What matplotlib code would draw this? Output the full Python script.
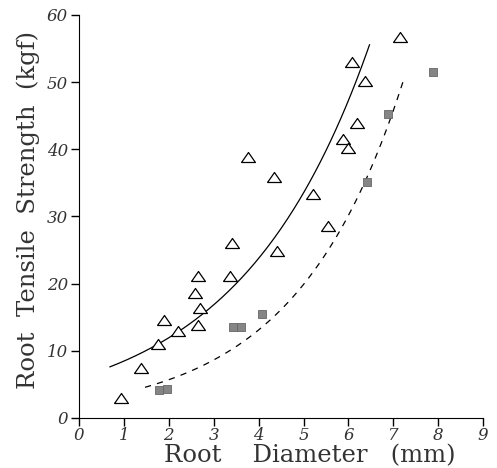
import numpy as np
import matplotlib
matplotlib.use('Agg')
import matplotlib.pyplot as plt

# Open triangles
tri_x = [0.93, 1.38, 1.75, 1.90, 2.21, 2.59, 2.64, 2.65, 2.70, 3.37, 3.40, 3.77,
         4.35, 4.42, 5.22, 5.54, 5.89, 6.00, 6.08, 6.19, 6.38, 7.16]
tri_y = [2.9, 7.5, 11.0, 14.6, 12.9, 18.6, 21.1, 13.8, 16.3, 21.2, 26.0, 38.8,
         35.9, 24.9, 33.4, 28.6, 41.6, 40.2, 53.0, 43.9, 50.2, 56.7]

# Grey squares
sq_x = [1.78, 1.97, 3.43, 3.60, 4.07, 6.41, 6.88, 7.88]
sq_y = [4.2, 4.3, 13.6, 13.6, 15.5, 35.2, 45.3, 51.5]

# Exponential fits y = a*exp(b*x)
solid_a, solid_b, solid_range = 6.0, 0.344, (0.69, 6.47)
dash_a, dash_b, dash_range = 2.47, 0.417, (1.47, 7.23)

txt = '#333333'

fig = plt.figure(figsize=(4.97, 4.68), dpi=100)
ax = fig.add_axes([0.159, 0.107, 0.813, 0.861])

xs = np.linspace(*solid_range, 200)
ax.plot(xs, solid_a * np.exp(solid_b * xs), color='black', lw=0.9)
xd = np.linspace(*dash_range, 200)
ax.plot(xd, dash_a * np.exp(dash_b * xd), color='black', lw=0.9, dashes=(5, 5))

tri = [(-1, -0.72), (1, -0.72), (0, 0.72), (-1, -0.72)]
ax.plot(tri_x, tri_y, linestyle='none', marker=tri, ms=10,
        mfc='white', mec='black', mew=0.9)
ax.plot(sq_x, sq_y, linestyle='none', marker='s', ms=6.2,
        mfc='#858585', mec='#666666', mew=0.6)

ax.set_xlim(0, 9)
ax.set_ylim(0, 60)
ax.set_xticks(range(0, 10))
ax.set_yticks(range(0, 70, 10))
for s in ['top', 'right']:
    ax.spines[s].set_visible(False)
ax.tick_params(direction='out', length=6, width=1, pad=2, labelcolor=txt)
ax.tick_params(axis='x', pad=0.5)
for lab in ax.get_xticklabels() + ax.get_yticklabels():
    lab.set_family('DejaVu Serif')
    lab.set_style('italic')
    lab.set_fontsize(12)

ax.set_xlabel('Root    Diameter   (mm)', family='DejaVu Serif', fontsize=17.5, color=txt)
ax.set_ylabel('Root  Tensile  Strength  (kgf)', family='DejaVu Serif', fontsize=17.5, color=txt)
ax.xaxis.set_label_coords(0.572, -0.066)
ax.yaxis.set_label_coords(-0.097, 0.516)

fig.savefig('out.png', dpi=100)
